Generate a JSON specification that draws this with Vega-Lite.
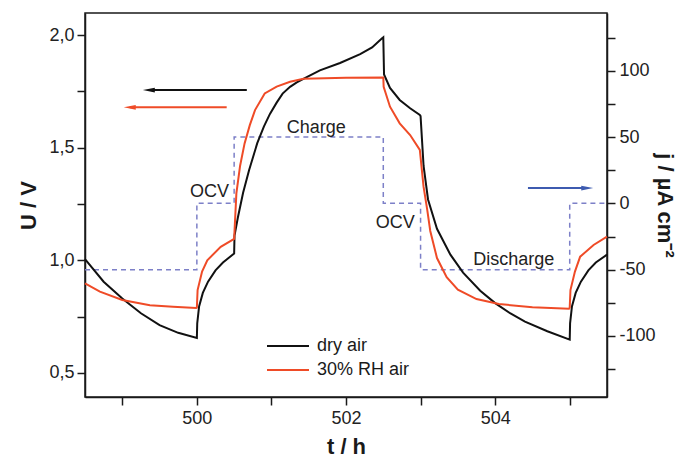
{
  "$schema": "https://vega.github.io/schema/vega-lite/v6.json",
  "width": 522,
  "height": 384,
  "autosize": {"type": "none"},
  "padding": {"left": 85, "top": 13, "right": 86, "bottom": 64},
  "background": "white",
  "config": {
    "font": "Liberation Sans",
    "view": {"stroke": "#1a1a1a", "strokeWidth": 1.5},
    "axis": {
      "grid": false,
      "domainColor": "#1a1a1a",
      "domainWidth": 1.5,
      "tickColor": "#1a1a1a",
      "tickWidth": 1.5,
      "tickSize": 8,
      "labelColor": "#222222",
      "labelFontSize": 18,
      "labelFont": "Liberation Sans",
      "titleFont": "Liberation Sans",
      "titleFontSize": 22,
      "titleFontWeight": "bold",
      "titleColor": "#1a1a1a"
    },
    "legend": {
      "orient": "none",
      "legendX": 194,
      "legendY": 324,
      "padding": 0,
      "symbolType": "M-3,0H3",
      "symbolSize": 196,
      "symbolStrokeWidth": 2,
      "labelFontSize": 18,
      "labelFont": "Liberation Sans",
      "labelColor": "#1a1a1a",
      "labelOffset": 20,
      "rowPadding": 6
    }
  },
  "datasets": {
    "curves": [
      {"series": "dry air", "t": 498.5, "U": 1.005},
      {"series": "dry air", "t": 498.75, "U": 0.905},
      {"series": "dry air", "t": 499.0, "U": 0.83},
      {"series": "dry air", "t": 499.25, "U": 0.765},
      {"series": "dry air", "t": 499.5, "U": 0.712},
      {"series": "dry air", "t": 499.75, "U": 0.678},
      {"series": "dry air", "t": 500.0, "U": 0.655},
      {"series": "dry air", "t": 500.005, "U": 0.72},
      {"series": "dry air", "t": 500.03, "U": 0.795},
      {"series": "dry air", "t": 500.08, "U": 0.855},
      {"series": "dry air", "t": 500.15, "U": 0.905},
      {"series": "dry air", "t": 500.25, "U": 0.955},
      {"series": "dry air", "t": 500.35, "U": 0.99},
      {"series": "dry air", "t": 500.45, "U": 1.017},
      {"series": "dry air", "t": 500.5, "U": 1.03},
      {"series": "dry air", "t": 500.505, "U": 1.11},
      {"series": "dry air", "t": 500.55, "U": 1.19},
      {"series": "dry air", "t": 500.62, "U": 1.3},
      {"series": "dry air", "t": 500.7, "U": 1.4},
      {"series": "dry air", "t": 500.81, "U": 1.52},
      {"series": "dry air", "t": 500.9, "U": 1.595},
      {"series": "dry air", "t": 500.98, "U": 1.65},
      {"series": "dry air", "t": 501.07, "U": 1.7},
      {"series": "dry air", "t": 501.15, "U": 1.74},
      {"series": "dry air", "t": 501.25, "U": 1.77},
      {"series": "dry air", "t": 501.34, "U": 1.79},
      {"series": "dry air", "t": 501.48, "U": 1.814},
      {"series": "dry air", "t": 501.65, "U": 1.843},
      {"series": "dry air", "t": 501.92, "U": 1.876},
      {"series": "dry air", "t": 502.19, "U": 1.915},
      {"series": "dry air", "t": 502.35, "U": 1.945},
      {"series": "dry air", "t": 502.48, "U": 1.985},
      {"series": "dry air", "t": 502.5, "U": 1.99},
      {"series": "dry air", "t": 502.51, "U": 1.825},
      {"series": "dry air", "t": 502.59, "U": 1.765},
      {"series": "dry air", "t": 502.72, "U": 1.712},
      {"series": "dry air", "t": 502.86, "U": 1.675},
      {"series": "dry air", "t": 502.99, "U": 1.645},
      {"series": "dry air", "t": 503.0, "U": 1.64},
      {"series": "dry air", "t": 503.04, "U": 1.42},
      {"series": "dry air", "t": 503.1, "U": 1.27},
      {"series": "dry air", "t": 503.22, "U": 1.14},
      {"series": "dry air", "t": 503.4, "U": 1.025},
      {"series": "dry air", "t": 503.57, "U": 0.945},
      {"series": "dry air", "t": 503.8, "U": 0.865},
      {"series": "dry air", "t": 504.0, "U": 0.81},
      {"series": "dry air", "t": 504.2, "U": 0.765},
      {"series": "dry air", "t": 504.4, "U": 0.728},
      {"series": "dry air", "t": 504.7, "U": 0.685},
      {"series": "dry air", "t": 505.0, "U": 0.648},
      {"series": "dry air", "t": 505.005, "U": 0.72},
      {"series": "dry air", "t": 505.03, "U": 0.795},
      {"series": "dry air", "t": 505.08, "U": 0.855},
      {"series": "dry air", "t": 505.15, "U": 0.905},
      {"series": "dry air", "t": 505.25, "U": 0.955},
      {"series": "dry air", "t": 505.35, "U": 0.99},
      {"series": "dry air", "t": 505.5, "U": 1.025},
      {"series": "30% RH air", "t": 498.5, "U": 0.898},
      {"series": "30% RH air", "t": 498.7, "U": 0.861},
      {"series": "30% RH air", "t": 499.0, "U": 0.824},
      {"series": "30% RH air", "t": 499.37, "U": 0.8},
      {"series": "30% RH air", "t": 499.68, "U": 0.794},
      {"series": "30% RH air", "t": 499.99, "U": 0.788},
      {"series": "30% RH air", "t": 500.0, "U": 0.79},
      {"series": "30% RH air", "t": 500.01, "U": 0.868},
      {"series": "30% RH air", "t": 500.07, "U": 0.95},
      {"series": "30% RH air", "t": 500.14, "U": 1.0},
      {"series": "30% RH air", "t": 500.32, "U": 1.06},
      {"series": "30% RH air", "t": 500.5, "U": 1.095},
      {"series": "30% RH air", "t": 500.53, "U": 1.297},
      {"series": "30% RH air", "t": 500.58, "U": 1.42},
      {"series": "30% RH air", "t": 500.64, "U": 1.519},
      {"series": "30% RH air", "t": 500.71, "U": 1.6},
      {"series": "30% RH air", "t": 500.78, "U": 1.667},
      {"series": "30% RH air", "t": 500.91, "U": 1.741},
      {"series": "30% RH air", "t": 501.07, "U": 1.771},
      {"series": "30% RH air", "t": 501.25, "U": 1.793},
      {"series": "30% RH air", "t": 501.43, "U": 1.806},
      {"series": "30% RH air", "t": 502.0, "U": 1.81},
      {"series": "30% RH air", "t": 502.5, "U": 1.812},
      {"series": "30% RH air", "t": 502.505, "U": 1.77},
      {"series": "30% RH air", "t": 502.59, "U": 1.682},
      {"series": "30% RH air", "t": 502.72, "U": 1.608},
      {"series": "30% RH air", "t": 502.86, "U": 1.556},
      {"series": "30% RH air", "t": 502.99, "U": 1.49},
      {"series": "30% RH air", "t": 503.04, "U": 1.327},
      {"series": "30% RH air", "t": 503.09, "U": 1.223},
      {"series": "30% RH air", "t": 503.13, "U": 1.13},
      {"series": "30% RH air", "t": 503.22, "U": 1.01},
      {"series": "30% RH air", "t": 503.35, "U": 0.925},
      {"series": "30% RH air", "t": 503.5, "U": 0.87},
      {"series": "30% RH air", "t": 503.75, "U": 0.828},
      {"series": "30% RH air", "t": 504.05, "U": 0.806},
      {"series": "30% RH air", "t": 504.5, "U": 0.791},
      {"series": "30% RH air", "t": 504.99, "U": 0.785},
      {"series": "30% RH air", "t": 505.0, "U": 0.79},
      {"series": "30% RH air", "t": 505.01, "U": 0.868},
      {"series": "30% RH air", "t": 505.07, "U": 0.95},
      {"series": "30% RH air", "t": 505.14, "U": 1.016},
      {"series": "30% RH air", "t": 505.32, "U": 1.068},
      {"series": "30% RH air", "t": 505.5, "U": 1.105}
    ],
    "current": [
      {"i": 0, "t": 498.5, "j": -50},
      {"i": 1, "t": 500.0, "j": -50},
      {"i": 2, "t": 500.0, "j": 0},
      {"i": 3, "t": 500.5, "j": 0},
      {"i": 4, "t": 500.5, "j": 50},
      {"i": 5, "t": 502.5, "j": 50},
      {"i": 6, "t": 502.5, "j": 0},
      {"i": 7, "t": 503.0, "j": 0},
      {"i": 8, "t": 503.0, "j": -50},
      {"i": 9, "t": 505.0, "j": -50},
      {"i": 10, "t": 505.0, "j": 0},
      {"i": 11, "t": 505.5, "j": 0}
    ],
    "arrows": [
      {"arrow": "dry", "t": 499.356, "t2": 500.67, "U": 1.756},
      {"arrow": "rh", "t": 499.1, "t2": 500.4, "U": 1.679}
    ],
    "jarrow": [
      {"t": 505.235, "t2": 504.44, "j": 11.5}
    ],
    "notes": [
      {"label": "Charge", "t": 501.6, "U": 1.587},
      {"label": "OCV", "t": 500.17, "U": 1.303},
      {"label": "OCV", "t": 502.66, "U": 1.166},
      {"label": "Discharge", "t": 504.25, "U": 1.0}
    ]
  },
  "encoding": {
    "x": {
      "field": "t", "type": "quantitative",
      "scale": {"domain": [498.5, 505.5], "nice": false, "zero": false},
      "axis": {
        "title": "t / h",
        "values": [499, 500, 501, 502, 503, 504, 505],
        "labelExpr": "datum.value % 2 === 0 ? '' + datum.value : ''",
        "labelPadding": 4,
        "titlePadding": 9,
        "labelFlush": false,
        "encode": {"ticks": {"update": {"y2": {"signal": "datum.value % 2 !== 0 ? 4 : 8"}}}}
      }
    }
  },
  "layer": [
    {
      "data": {"name": "current"},
      "mark": {"type": "line", "color": "#7d80c8", "strokeWidth": 1.5, "strokeDash": [5, 4]},
      "encoding": {
        "y": {
          "field": "j", "type": "quantitative",
          "scale": {"domain": [-146, 143.5], "nice": false, "zero": false},
          "axis": {
            "title": "j / µA cm⁻²",
            "orient": "right",
            "values": [-125, -100, -75, -50, -25, 0, 25, 50, 75, 100, 125],
            "labelExpr": "datum.value % 50 === 0 ? '' + datum.value : ''",
            "labelPadding": 4,
            "titlePadding": -3,
            "labelFlush": false,
            "encode": {"ticks": {"update": {"x2": {"signal": "datum.value % 50 !== 0 ? 4 : 8"}}}}
          }
        },
        "order": {"field": "i", "type": "quantitative"}
      }
    },
    {
      "data": {"name": "jarrow"},
      "mark": {"type": "rule", "color": "#3d5bb0", "strokeWidth": 2},
      "encoding": {
        "x2": {"field": "t2"},
        "y": {"field": "j", "type": "quantitative", "scale": {"domain": [-146, 143.5], "nice": false, "zero": false}, "axis": null}
      }
    },
    {
      "data": {"name": "jarrow"},
      "mark": {"type": "point", "shape": "M1,0L-1,-0.4L-1,0.4Z", "filled": true, "opacity": 1, "color": "#3d5bb0", "size": 144, "strokeWidth": 0},
      "encoding": {
        "y": {"field": "j", "type": "quantitative", "scale": {"domain": [-146, 143.5], "nice": false, "zero": false}, "axis": null}
      }
    },
    {
      "data": {"name": "arrows"},
      "transform": [{"filter": "datum.arrow === 'dry'"}],
      "mark": {"type": "rule", "color": "#111111", "strokeWidth": 2},
      "encoding": {
        "x2": {"field": "t2"},
        "y": {"field": "U", "type": "quantitative", "scale": {"domain": [0.393, 2.098], "nice": false, "zero": false}, "axis": null}
      }
    },
    {
      "data": {"name": "arrows"},
      "transform": [{"filter": "datum.arrow === 'rh'"}],
      "mark": {"type": "rule", "color": "#ef4b27", "strokeWidth": 2},
      "encoding": {
        "x2": {"field": "t2"},
        "y": {"field": "U", "type": "quantitative", "scale": {"domain": [0.393, 2.098], "nice": false, "zero": false}, "axis": null}
      }
    },
    {
      "data": {"name": "arrows"},
      "transform": [{"filter": "datum.arrow === 'dry'"}],
      "mark": {"type": "point", "shape": "M-1,0L1,-0.4L1,0.4Z", "filled": true, "opacity": 1, "color": "#111111", "size": 144, "strokeWidth": 0},
      "encoding": {
        "y": {"field": "U", "type": "quantitative", "scale": {"domain": [0.393, 2.098], "nice": false, "zero": false}, "axis": null}
      }
    },
    {
      "data": {"name": "arrows"},
      "transform": [{"filter": "datum.arrow === 'rh'"}],
      "mark": {"type": "point", "shape": "M-1,0L1,-0.4L1,0.4Z", "filled": true, "opacity": 1, "color": "#ef4b27", "size": 144, "strokeWidth": 0},
      "encoding": {
        "y": {"field": "U", "type": "quantitative", "scale": {"domain": [0.393, 2.098], "nice": false, "zero": false}, "axis": null}
      }
    },
    {
      "data": {"name": "notes"},
      "mark": {"type": "text", "fontSize": 18, "font": "Liberation Sans", "color": "#222222", "align": "center", "baseline": "middle"},
      "encoding": {
        "y": {"field": "U", "type": "quantitative", "scale": {"domain": [0.393, 2.098], "nice": false, "zero": false}, "axis": null},
        "text": {"field": "label"}
      }
    },
    {
      "data": {"name": "curves"},
      "mark": {"type": "line", "strokeWidth": 2, "interpolate": "linear"},
      "encoding": {
        "y": {
          "field": "U", "type": "quantitative",
          "scale": {"domain": [0.393, 2.098], "nice": false, "zero": false},
          "axis": {
            "title": "U / V",
            "orient": "left",
            "values": [0.5, 0.75, 1, 1.25, 1.5, 1.75, 2],
            "labelExpr": "(datum.value*100) % 50 === 0 ? replace(format(datum.value, '.1f'), '.', ',') : ''",
            "labelPadding": 3,
            "titlePadding": 8,
            "labelFlush": false,
            "encode": {"ticks": {"update": {"x2": {"signal": "(datum.value*100) % 50 !== 0 ? -4 : -8"}}}}
          }
        },
        "color": {
          "field": "series", "type": "nominal",
          "scale": {"domain": ["dry air", "30% RH air"], "range": ["#111111", "#ef4b27"]},
          "legend": {"title": null}
        }
      }
    }
  ],
  "resolve": {"scale": {"y": "independent"}, "axis": {"y": "independent"}}
}
